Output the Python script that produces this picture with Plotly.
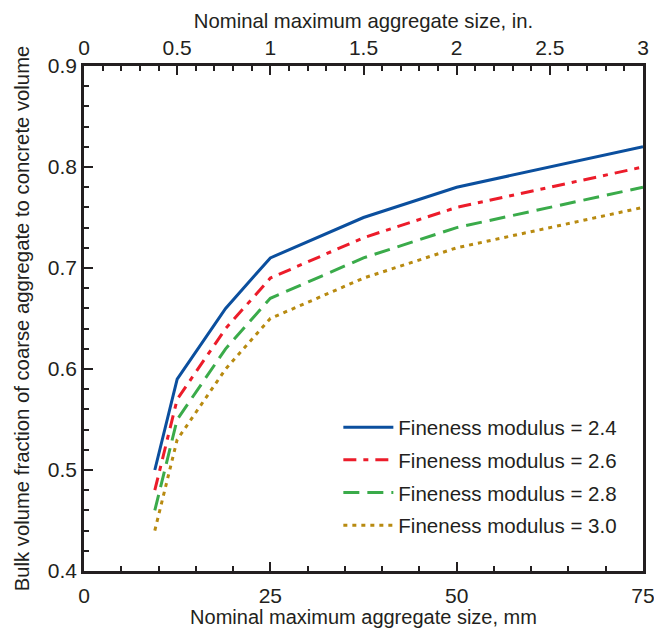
import plotly.graph_objects as go

sizes_mm = [9.5, 12.5, 19, 25, 37.5, 50, 75]
fm_24 = [0.50, 0.59, 0.66, 0.71, 0.75, 0.78, 0.82]
fm_26 = [0.48, 0.57, 0.64, 0.69, 0.73, 0.76, 0.80]
fm_28 = [0.46, 0.55, 0.62, 0.67, 0.71, 0.74, 0.78]
fm_30 = [0.44, 0.53, 0.60, 0.65, 0.69, 0.72, 0.76]
series_names = ["Fineness modulus = 2.4", "Fineness modulus = 2.6",
                "Fineness modulus = 2.8", "Fineness modulus = 3.0"]
colors = ["#0b4f9e", "#ec1c2a", "#3aab4a", "#b88a10"]
dashes = ["solid", "13px,7px,5px,7px", "16px,8px", "4px,5px"]

fig = go.Figure()
for i, (vals, name, c, d) in enumerate(zip([fm_24, fm_26, fm_28, fm_30], series_names, colors, dashes)):
    fig.add_trace(go.Scatter(x=sizes_mm, y=vals, mode="lines", name=name,
                             legendgroup=f"g{i}",
                             line=dict(color=c, width=3, dash=d)))
# invisible trace for top inch axis
fig.add_trace(go.Scatter(x=[0, 3], y=[0.4, 0.4], xaxis="x2", mode="lines",
                         line=dict(width=0), showlegend=False, hoverinfo="skip"))

ink = "#231f20"
font = dict(family="Liberation Sans, Arial, sans-serif", size=20, color=ink)
tick_common = dict(ticks="inside", ticklen=9, tickwidth=2, tickcolor=ink,
                   showline=True, linewidth=2.5, linecolor=ink,
                   showgrid=False, zeroline=False, automargin=False,
                   ticklabeloverflow="allow",
                   tickfont=dict(size=21))
fig.update_layout(
    width=654, height=628,
    margin=dict(l=84, r=11, t=66, b=57),
    paper_bgcolor="white", plot_bgcolor="white",
    font=font,
    xaxis=dict(range=[0, 75], dtick=25, tick0=0, ticklabelstandoff=4,
               minor=dict(dtick=5, ticks="inside", ticklen=5, tickwidth=2, tickcolor=ink),
               title=dict(text="Nominal maximum aggregate size, mm", standoff=4,
                          font=dict(size=20)),
               **tick_common),
    xaxis2=dict(range=[0, 3], dtick=0.5, tick0=0, overlaying="x", side="top", anchor="y",
                minor=dict(dtick=0.1, ticks="inside", ticklen=5, tickwidth=2, tickcolor=ink),
                title=dict(text="Nominal maximum aggregate size, in.", standoff=2,
                           font=dict(size=20.3)),
                **tick_common),
    yaxis=dict(range=[0.4, 0.9], dtick=0.1, tick0=0.4, tickformat=".1f", mirror=True,
               minor=dict(dtick=0.02, ticks="inside", ticklen=5, tickwidth=2, tickcolor=ink),
               title=dict(text="Bulk volume fraction of coarse aggregate to concrete volume",
                          standoff=13, font=dict(size=20.3)),
               **tick_common),
    legend=dict(x=0.455, y=0.324, xanchor="left", yanchor="top", bgcolor="rgba(0,0,0,0)",
                font=dict(size=20.5), tracegroupgap=3, itemwidth=50),
    showlegend=True,
)
fig.write_html("out.html")
